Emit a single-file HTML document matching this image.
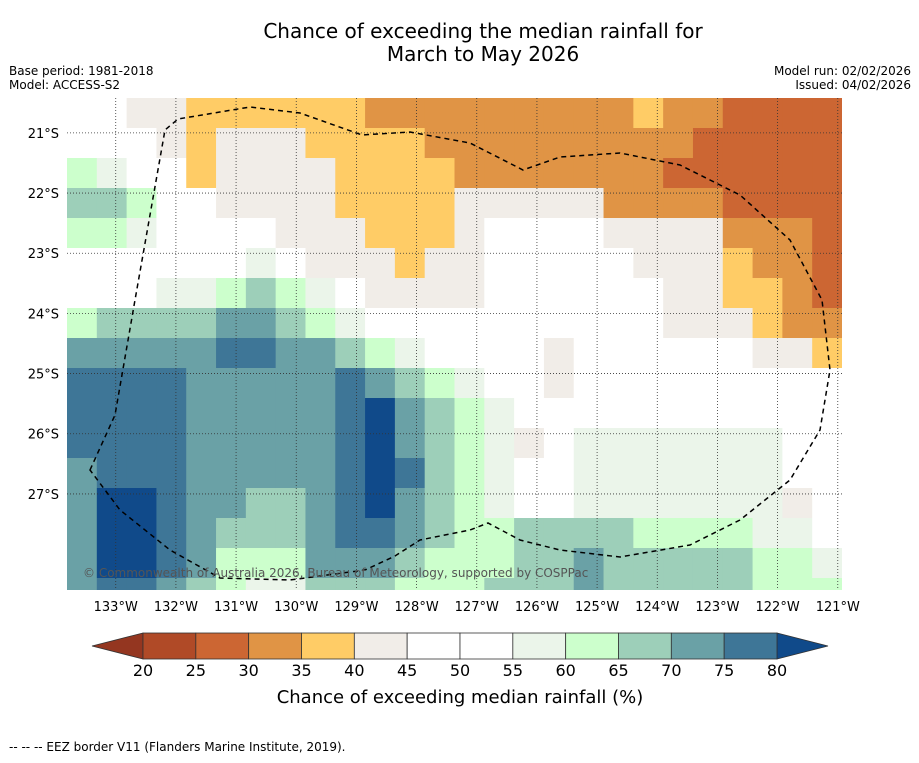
<!DOCTYPE html>
<html><head><meta charset="utf-8">
<style>
body{margin:0;background:#fff;font-family:"Liberation Sans","DejaVu Sans",sans-serif;}
svg text{font-family:"DejaVu Sans","Liberation Sans",sans-serif;}
</style></head>
<body>
<svg id="s" width="919" height="758" xmlns="http://www.w3.org/2000/svg">
<text x="483" y="38" font-size="20" text-anchor="middle">Chance of exceeding the median rainfall for</text>
<text x="483" y="61" font-size="20" text-anchor="middle">March to May 2026</text>
<text x="9" y="75" font-size="12">Base period: 1981-2018</text>
<text x="9" y="89" font-size="12">Model: ACCESS-S2</text>
<text x="911" y="75" font-size="12" text-anchor="end">Model run: 02/02/2026</text>
<text x="911" y="89" font-size="12" text-anchor="end">Issued: 04/02/2026</text>
<defs><clipPath id="mc"><rect x="67" y="98" width="775" height="492"/></clipPath></defs>
<g id="map" clip-path="url(#mc)"></g>
<g id="grid"></g>
<path d="M90,470 L115,415 L135,300 L165,130 L178,119 L250,107 L300,113 L362,135 L410,132 L470,143 L523,170 L560,157 L620,153 L680,165 L740,195 L790,240 L822,300 L830,370 L820,430 L790,480 L740,520 L690,545 L620,557 L560,550 L520,540 L488,523 L470,530 L420,540 L395,556 L365,570 L290,580 L220,578 L170,550 L120,510 Z" fill="none" stroke="#000" stroke-width="1.5" stroke-dasharray="5,4" clip-path="url(#mc)"/>
<text x="83" y="577" font-size="12" fill="#555">© Commonwealth of Australia 2026, Bureau of Meteorology, supported by COSPPac</text>
<g id="axes"></g>
<g id="cbar"></g>
<text x="460" y="703" font-size="18" text-anchor="middle">Chance of exceeding median rainfall (%)</text>
<text x="9" y="751" font-size="12">-- -- -- EEZ border V11 (Flanders Marine Institute, 2019).</text>
</svg>
<script>
const lonTicks=[133,132,131,130,129,128,127,126,125,124,123,122,121];
const latTicks=[21,22,23,24,25,26,27];
const levels=[20,25,30,35,40,45,50,55,60,65,70,75,80];
const bandColors=["#943620","#b04a27","#cc6633","#e09445","#ffcc66","#f1ede8","#ffffff","#ffffff","#ebf5ea","#ccffcc","#9dcfb9","#6aa1a6","#3e7697","#104a8a"];
const gridVals=[
[50,50,42,42,38,38,38,38,38,38,32,32,32,32,32,32,32,32,32,38,32,32,27,27,27,27],
[52,50,50,42,38,42,42,42,38,38,38,38,32,32,32,32,32,32,32,32,32,27,27,27,27,27],
[62,57,50,50,38,42,42,42,42,38,38,38,38,32,32,32,32,32,32,32,27,27,27,27,27,27],
[67,67,62,52,52,42,42,42,42,38,38,38,38,42,42,42,42,42,32,32,32,32,27,27,27,27],
[62,62,57,50,50,48,50,42,42,42,38,38,38,42,48,48,48,48,42,42,42,42,32,32,32,27],
[52,52,50,50,50,50,57,52,42,42,42,38,42,42,48,52,48,48,48,42,42,42,38,32,32,27],
[50,50,52,55,57,62,67,62,57,52,42,42,42,42,48,48,48,48,52,48,42,42,38,38,32,27],
[62,67,67,67,67,72,72,67,62,57,52,50,48,48,48,48,48,48,48,48,42,42,42,38,32,32],
[72,72,72,72,72,77,77,72,72,67,62,57,52,50,50,50,42,48,48,48,48,48,48,42,42,38],
[77,77,77,77,72,72,72,72,72,77,72,67,62,57,52,50,42,48,48,48,48,48,48,48,48,48],
[77,77,77,77,72,72,72,72,72,77,82,72,67,62,57,52,48,52,52,52,52,52,52,52,52,50],
[77,77,77,77,72,72,72,72,72,77,82,72,67,62,57,42,52,57,57,57,57,57,57,57,52,50],
[72,77,77,77,72,72,72,72,72,77,82,77,67,62,57,52,52,57,57,57,57,57,57,57,52,50],
[72,82,82,77,72,72,67,67,72,77,82,72,67,62,57,52,52,57,57,57,57,57,57,57,42,50],
[72,82,82,77,72,67,67,67,72,77,77,72,67,62,62,67,67,67,67,62,62,62,62,57,57,52],
[72,82,82,77,72,62,62,62,72,72,72,67,62,62,62,67,67,72,67,67,67,67,67,62,62,57],
[72,77,77,72,67,62,57,57,67,67,67,62,62,62,67,67,67,72,67,67,67,67,67,62,62,62]];
const NS="http://www.w3.org/2000/svg";
const X0=67,Y0=98,W=775,H=492;
const lonLeft=133.81,pxDeg=60.17,latTop=20.42;
const xOf=lon=>X0+(lonLeft-lon)*pxDeg;
const yOf=lat=>Y0+(lat-latTop)*pxDeg;
function colorOf(v){let i=0;while(i<levels.length&&v>=levels[i])i++;return bandColors[i];}
function mk(t,a,p){const e=document.createElementNS(NS,t);for(const k in a)e.setAttribute(k,a[k]);p.appendChild(e);return e;}
const map=document.getElementById('map');
const rows=gridVals.length,cols=gridVals[0].length;
const cw=W/cols,ch=30;
gridVals.forEach((row,r)=>row.forEach((v,c)=>{
 const e=mk('rect',{x:X0+c*cw,y:Y0+r*ch,width:cw+0.6,height:ch+0.6,fill:colorOf(v)},map);
 
 
}));
const grid=document.getElementById('grid'),axes=document.getElementById('axes');
lonTicks.forEach(l=>{
 const x=xOf(l);
 if(x>X0&&x<X0+W){const g=mk('line',{x1:x,x2:x,y1:Y0,y2:Y0+H,stroke:'#333','stroke-width':0.8,'stroke-dasharray':'1,2'},grid);
 }
 const t=mk('text',{x:x,y:611,'font-size':13,'text-anchor':'middle'},axes);t.textContent=l+'°W';
 
});
latTicks.forEach(l=>{
 const y=yOf(l);
 const g=mk('line',{x1:X0,x2:X0+W,y1:y,y2:y,stroke:'#333','stroke-width':0.8,'stroke-dasharray':'1,2'},grid);
 
 const t=mk('text',{x:59,y:y+5,'font-size':13,'text-anchor':'end'},axes);t.textContent=l+'°S';
 
});
const cb=document.getElementById('cbar');
const cx0=143,cx1=777,cy=633,chh=26,bw=(cx1-cx0)/(levels.length-1);
const lt=mk('polygon',{points:`92,${cy+chh/2} ${cx0},${cy} ${cx0},${cy+chh}`,fill:bandColors[0],stroke:'#333','stroke-width':0.8},cb);

const rt=mk('polygon',{points:`828,${cy+chh/2} ${cx1},${cy} ${cx1},${cy+chh}`,fill:bandColors[13],stroke:'#333','stroke-width':0.8},cb);

for(let i=0;i<levels.length-1;i++){
 const r=mk('rect',{x:cx0+i*bw,y:cy,width:bw,height:chh,fill:bandColors[i+1],stroke:'#333','stroke-width':0.8},cb);
 
}
levels.forEach((l,i)=>{
 const t=mk('text',{x:cx0+i*bw,y:676,'font-size':16,'text-anchor':'middle'},cb);t.textContent=l;
 
});
</script>
</body></html>
